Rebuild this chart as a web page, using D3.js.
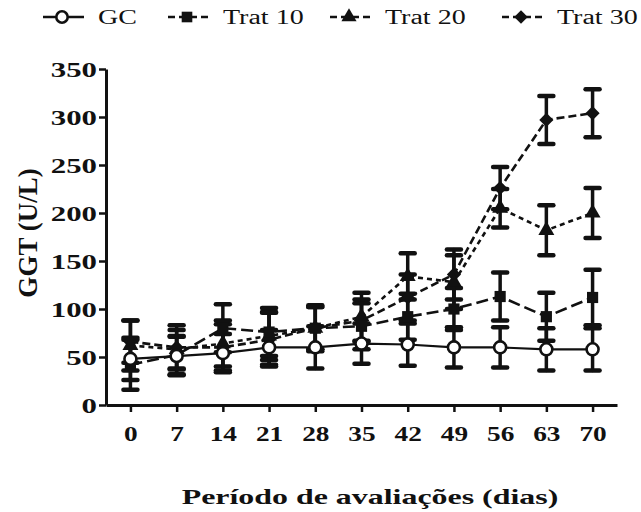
<!DOCTYPE html>
<html>
<head>
<meta charset="utf-8">
<script src="https://cdn.jsdelivr.net/npm/d3@7"></script>
<style>
  body { margin: 0; background: #fff; }
  svg { display: block; }
  text { font-family: "Liberation Serif", "Times New Roman", serif; fill: #111; }
</style>
</head>
<body>
<div id="chart"></div>
<script>
// days of evaluation
var days = [0, 7, 14, 21, 28, 35, 42, 49, 56, 63, 70];
var yTicks = [0, 50, 100, 150, 200, 250, 300, 350];

// GGT means and error (U/L)
var gcMean = [48, 51, 54, 60, 60, 64, 63, 60, 60, 58, 58];
var gcErr = [22, 20, 20, 18, 22, 21, 22, 21, 21, 22, 22];
var t10Mean = [42, 52, 80, 76, 80, 82, 92, 100, 113, 92, 112];
var t10Err = [26, 20, 25, 25, 24, 24, 24, 22, 25, 25, 29];
var t20Mean = [62, 58, 64, 72, 80, 92, 134, 128, 205, 182, 200];
var t20Err = [26, 20, 24, 25, 22, 25, 24, 28, 20, 26, 26];
var t30Mean = [66, 60, 60, 68, 80, 88, 112, 136, 226, 297, 304];
var t30Err = [22, 23, 24, 28, 22, 22, 24, 26, 22, 25, 25];

var seriesNames = ["GC", "Trat 10", "Trat 20", "Trat 30"];

var svgWidth = 641;
var svgHeight = 512;

var svg = d3.select("#chart")
    .append("svg")
    .attr("width", svgWidth)
    .attr("height", svgHeight);

var x = d3.scaleLinear().domain([-3.7, 73.7]).range([106, 617]);
var y = d3.scaleLinear().domain([0, 350]).range([405, 69]);

// stretch text horizontally (figure fonts look wide)
function stretch(sel, k) {
    sel.each(function () {
        var w = this.getComputedTextLength();
        d3.select(this).attr("textLength", w * k).attr("lengthAdjust", "spacingAndGlyphs");
    });
}

var series = [
    { name: seriesNames[0], mean: gcMean, err: gcErr, dash: null, mark: "circle" },
    { name: seriesNames[1], mean: t10Mean, err: t10Err, dash: "12,5", mark: "square" },
    { name: seriesNames[2], mean: t20Mean, err: t20Err, dash: "5,4", mark: "triangle" },
    { name: seriesNames[3], mean: t30Mean, err: t30Err, dash: "8,4", mark: "diamond" }
];

// axes
var xAxis = svg.append("g")
    .attr("transform", "translate(0," + y(0) + ")")
    .call(d3.axisBottom(x).tickValues(days).tickSize(7).tickSizeOuter(0).tickPadding(14));
var yAxis = svg.append("g")
    .attr("transform", "translate(" + x.range()[0] + ",0)")
    .call(d3.axisLeft(y).tickValues(yTicks).tickSize(7).tickSizeOuter(0).tickPadding(2));

[xAxis, yAxis].forEach(function (a) {
    a.select(".domain").attr("stroke", "#111").attr("stroke-width", 3);
    a.selectAll(".tick line").attr("stroke", "#111").attr("stroke-width", 2.5);
});
xAxis.selectAll(".tick text")
    .style("font-family", "Liberation Serif").style("font-size", "21px").style("font-weight", "bold").attr("fill", "#111");
yAxis.selectAll(".tick text")
    .style("font-family", "Liberation Serif").style("font-size", "22px").style("font-weight", "bold").attr("fill", "#111");
stretch(xAxis.selectAll(".tick text"), 1.3);
stretch(yAxis.selectAll(".tick text"), 1.4);

// lines
var line = d3.line().x(function (d, i) { return x(days[i]); }).y(function (d) { return y(d); });

series.forEach(function (s) {
    svg.append("path")
        .datum(s.mean)
        .attr("d", line)
        .attr("fill", "none")
        .attr("stroke", "#111")
        .attr("stroke-width", s.dash ? 2.6 : 2.2)
        .attr("stroke-dasharray", s.dash);
});

// error bars
series.forEach(function (s) {
    var g = svg.append("g").attr("stroke", "#111").attr("stroke-linecap", "round");
    s.mean.forEach(function (m, i) {
        var cx = x(days[i]);
        g.append("line").attr("x1", cx).attr("x2", cx)
            .attr("y1", y(m - s.err[i])).attr("y2", y(m + s.err[i]))
            .attr("stroke-width", 3.5);
        [m - s.err[i], m + s.err[i]].forEach(function (v) {
            g.append("line").attr("x1", cx - 7).attr("x2", cx + 7)
                .attr("y1", y(v)).attr("y2", y(v))
                .attr("stroke-width", 4.5);
        });
    });
});

// markers
function drawMark(g, type, cx, cy, scale) {
    var k = scale || 1;
    if (type === "circle") {
        g.append("circle").attr("cx", cx).attr("cy", cy).attr("r", 6 * k)
            .attr("fill", "#fff").attr("stroke", "#111").attr("stroke-width", 2.6);
    } else if (type === "square") {
        g.append("path").attr("d", d3.symbol().type(d3.symbolSquare).size(125 * k * k))
            .attr("transform", "translate(" + cx + "," + cy + ")").attr("fill", "#111");
    } else if (type === "triangle") {
        g.append("path").attr("d", d3.symbol().type(d3.symbolTriangle).size(110 * k * k))
            .attr("transform", "translate(" + cx + "," + cy + ")").attr("fill", "#111");
    } else {
        g.append("path").attr("d", d3.symbol().type(d3.symbolSquare).size(100 * k * k))
            .attr("transform", "translate(" + cx + "," + cy + ") rotate(45)").attr("fill", "#111");
    }
}

series.slice().reverse().forEach(function (s) {
    var g = svg.append("g");
    s.mean.forEach(function (m, i) {
        drawMark(g, s.mark, x(days[i]), y(m));
    });
});

// legend
var legendX = [43, 168, 330, 502];
var legend = svg.append("g");
series.forEach(function (s, i) {
    var lx = legendX[i];
    legend.append("line")
        .attr("x1", lx).attr("x2", lx + 41).attr("y1", 17).attr("y2", 17)
        .attr("stroke", "#111").attr("stroke-width", 2.6)
        .attr("stroke-dasharray", s.dash ? "7,4" : null);
    drawMark(legend, s.mark, lx + 19, 17, 0.95);
    legend.append("text")
        .attr("x", lx + 55).attr("y", 24)
        .style("font-size", "20px")
        .text(s.name);
});
stretch(legend.selectAll("text"), 1.4);

// axis titles
svg.append("text")
    .attr("transform", "translate(37,233) rotate(-90)")
    .attr("text-anchor", "middle")
    .style("font-size", "27px")
    .style("font-weight", "bold")
    .text("GGT (U/L)");

var xt = svg.append("text")
    .attr("x", 370).attr("y", 504)
    .attr("text-anchor", "middle")
    .style("font-size", "22px")
    .style("font-weight", "bold")
    .text("Período de avaliações (dias)");
stretch(xt, 1.45);
</script>
</body>
</html>
